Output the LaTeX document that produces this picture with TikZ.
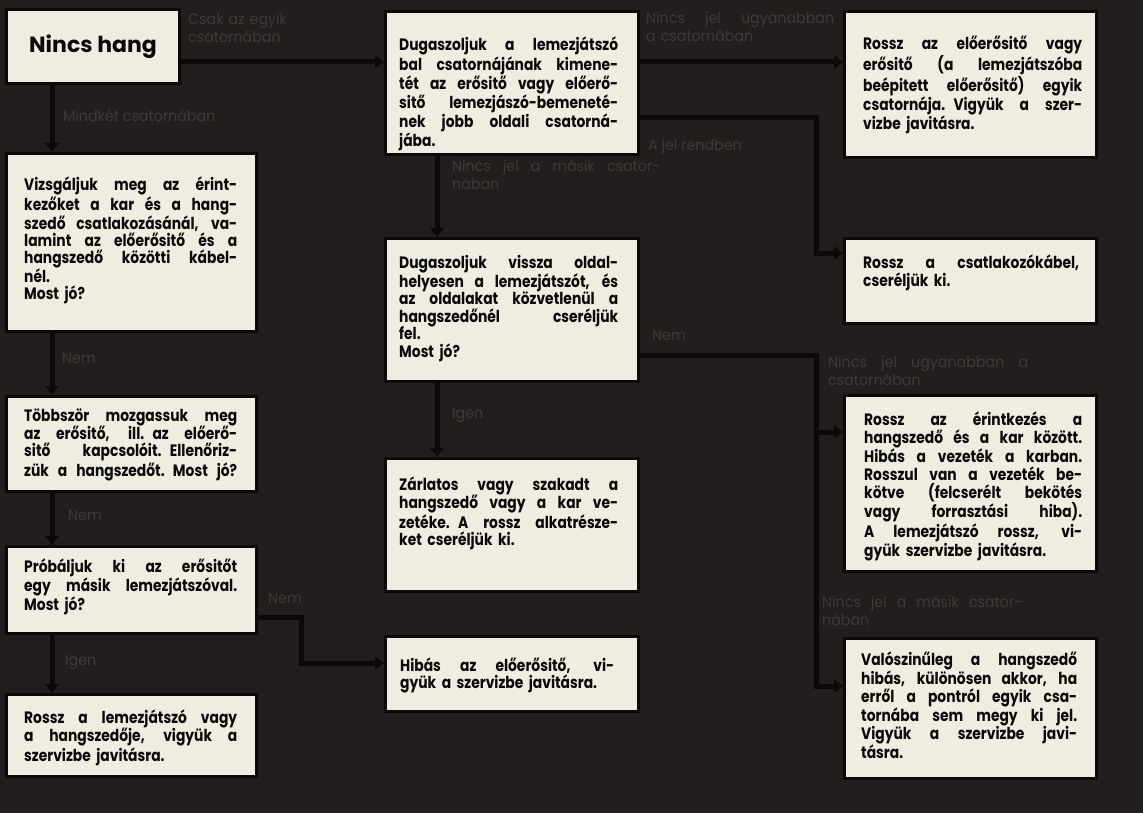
\documentclass[tikz,border=0pt]{standalone}
\usepackage{fontspec}
\usepackage{graphicx}
\setmainfont{Poppins}[FakeStretch=0.84]
\newfontfamily\titlefont{Poppins}
\newfontfamily\labfont{Poppins}[FakeStretch=0.95]
\usetikzlibrary{arrows.meta}
\definecolor{bg}{HTML}{211E1D}
\definecolor{paper}{HTML}{EFECE2}
\definecolor{lbl}{HTML}{3D3936}
\definecolor{ink}{HTML}{0B0A0A}
\newcommand\jl[1]{\noindent\setbox0=\hbox{#1}%
  \ifdim\wd0>\hsize\resizebox{\hsize}{\height}{#1}%
  \else\hbox to \hsize{\spaceskip=0.26em plus 4em minus 0.08em\relax #1}\fi\par}
\newcommand\rl[1]{\noindent #1\par}
\tikzset{
  box/.style={draw=ink, line width=3pt, fill=paper, rectangle, anchor=north west, inner sep=0pt},
  txtL/.style={anchor=base west, inner sep=0pt, align=left, font=\bfseries\fontsize{16.5}{17}\selectfont, text=ink},
  txtM/.style={anchor=base west, inner sep=0pt, align=left, font=\bfseries\fontsize{16.5}{17.5}\selectfont, text=ink},
  txtR/.style={anchor=base west, inner sep=0pt, align=left, font=\bfseries\fontsize{16.5}{18}\selectfont, text=ink},
  lab/.style={anchor=base west, inner sep=0pt, align=left, font=\labfont\fontsize{15}{18}\selectfont, text=lbl},
  conn/.style={draw=ink, line width=5pt, line join=miter, -{Triangle[length=9pt,width=13pt]}},
}
\begin{document}
\begin{tikzpicture}[x=1pt,y=-1pt]
\useasboundingbox (0,0) rectangle (1143,813);
\fill[bg] (0,0) rectangle (1143,813);

% boxes
\node[box, minimum width=173pt, minimum height=74pt, font=\titlefont\bfseries\fontsize{22}{26}\selectfont, text=ink] (nh) at (5,8) {Nincs hang};
\node[box, minimum width=250pt, minimum height=178pt] (l1) at (5,152) {};
\node[box, minimum width=250pt, minimum height=95pt] (l2) at (5,395) {};
\node[box, minimum width=250pt, minimum height=87pt] (l3) at (5,545) {};
\node[box, minimum width=250pt, minimum height=82pt] (l4) at (5,693) {};
\node[box, minimum width=253pt, minimum height=143pt] (b2) at (384,10) {};
\node[box, minimum width=253pt, minimum height=143pt] (b5) at (384,237) {};
\node[box, minimum width=253pt, minimum height=133pt] (b8) at (384,457) {};
\node[box, minimum width=253pt, minimum height=75pt] (b9) at (384,635) {};
\node[box, minimum width=252pt, minimum height=146pt] (r3) at (843,10) {};
\node[box, minimum width=252pt, minimum height=85pt] (r4) at (843,237) {};
\node[box, minimum width=252pt, minimum height=176pt] (r6) at (843,394) {};
\node[box, minimum width=252pt, minimum height=140pt] (r7) at (843,637) {};

% box texts
\node[txtL, text width=213pt] (l1t) at (24,191) {%
\jl{Vizsgáljuk meg az érint-}\jl{kezőket a kar és a hang-}\jl{szedő csatlakozásánál, va-}\jl{lamint az előerősitő és a}\jl{hangszedő közötti kábel-}\rl{nél.}\rl{Most jó?}};
\node[txtL, text width=213pt] (l2t) at (24,421) {%
\jl{Többször mozgassuk meg}\jl{az erősitő, ill. az előerő-}\jl{sitő kapcsolóit. Ellenőriz-}\jl{zük a hangszedőt. Most jó?}};
\node[txtL, text width=213pt] (l3t) at (24,572) {%
\jl{Próbáljuk ki az erősitőt}\jl{egy másik lemezjátszóval.}\rl{Most jó?}};
\node[txtL, text width=213pt] (l4t) at (24,723) {%
\jl{Rossz a lemezjátszó vagy}\jl{a hangszedője, vigyük a}\rl{szervizbe javitásra.}};
\node[txtM, text width=219pt] (b2t) at (399,51) {%
\jl{Dugaszoljuk a lemezjátszó}\jl{bal csatornájának kimene-}\jl{tét az erősitő vagy előerő-}\jl{sitő lemezjászó-bemeneté-}\jl{nek jobb oldali csatorná-}\rl{jába.}};
\node[txtM, text width=219pt] (b5t) at (399,268) {%
\jl{Dugaszoljuk vissza oldal-}\jl{helyesen a lemezjátszót, és}\jl{az oldalakat közvetlenül a}\jl{hangszedőnél cseréljük}\rl{fel.}\rl{Most jó?}};
\node[txtM, text width=219pt] (b8t) at (399,490) {%
\jl{Zárlatos vagy szakadt a}\jl{hangszedő vagy a kar ve-}\jl{zetéke. A rossz alkatrésze-}\rl{ket cseréljük ki.}};
\node[txtM, text width=214pt] (b9t) at (400,671) {%
\jl{Hibás az előerősitő, vi-}\rl{gyük a szervizbe javitásra.}};
\node[txtR, text width=219pt] (r3t) at (863,50) {%
\jl{Rossz az előerősitő vagy}\jl{erősitő (a lemezjátszóba}\jl{beépitett előerősitő) egyik}\jl{csatornája. Vigyük a szer-}\rl{vizbe javitásra.}};
\node[txtR, text width=216pt] (r4t) at (863,268) {%
\jl{Rossz a csatlakozókábel,}\rl{cseréljük ki.}};
\node[txtR, text width=218pt] (r6t) at (864,425) {%
\jl{Rossz az érintkezés a}\jl{hangszedő és a kar között.}\jl{Hibás a vezeték a karban.}\jl{Rosszul van a vezeték be-}\jl{kötve (felcserélt bekötés}\jl{vagy forrasztási hiba).}\jl{A lemezjátszó rossz, vi-}\rl{gyük szervizbe javitásra.}};
\node[txtR, text width=216pt] (r7t) at (861,665) {%
\jl{Valószinűleg a hangszedő}\jl{hibás, különösen akkor, ha}\jl{erről a pontról egyik csa-}\jl{tornába sem megy ki jel.}\jl{Vigyük a szervizbe javi-}\rl{tásra.}};

% connectors
\draw[conn] (nh.east |- 0,62) -- (b2.west |- 0,62);
\draw[conn] (nh.south -| 52,0) -- (l1.north -| 52,0);
\draw[conn] (l1.south -| 52,0) -- (l2.north -| 52,0);
\draw[conn] (l2.south -| 52,0) -- (l3.north -| 52,0);
\draw[conn] (l3.south -| 52,0) -- (l4.north -| 52,0);
\draw[conn] (l3.east |- 0,617) -- ++(43,0) |- (b9.west |- 0,663);
\draw[conn] (b2.east |- 0,62) -- (r3.west |- 0,62);
\coordinate (j2) at (816,253);
\draw[conn] (b2.east |- 0,118) -| (j2) -- (r4.west |- j2);
\draw[conn] (b2.south -| 437,0) -- (b5.north -| 437,0);
\draw[conn] (b5.south -| 437,0) -- (b8.north -| 437,0);
\coordinate (j3) at (816,432);
\coordinate (j4) at (816,686);
\draw[conn] (b5.east |- 0,355) -| (j4) -- (r7.west |- j4);
\draw[conn] (j3) -- (r6.west |- j3);

% labels
\node[lab, text width=120pt] (c1) at (188,25) {\rl{Csak az egyik}\rl{csatornában}};
\node[lab] (c2) at (63,122) {Mindkét csatornában};
\node[lab] (c3) at (62,363) {Nem};
\node[lab] (c4) at (68,520) {Nem};
\node[lab] (c5) at (65,665) {Igen};
\node[lab] (c6) at (268,603) {Nem};
\node[lab, text width=188pt] (c7) at (646,24) {\jl{Nincs jel ugyanabban}\rl{a csatornában}};
\node[lab] (c8) at (648,151) {A jel rendben};
\node[lab, text width=208pt] (c9) at (452,172) {\jl{Nincs jel a másik csator-}\rl{nában}};
\node[lab] (c10) at (652,340) {Nem};
\node[lab] (c11) at (452,418) {Igen};
\node[lab, text width=200pt] (c12) at (828,367) {\jl{Nincs jel ugyanabban a}\rl{csatornában}};
\node[lab, text width=200pt] (c13) at (822,607) {\jl{Nincs jel a másik csator-}\rl{nában}};
\end{tikzpicture}
\end{document}
